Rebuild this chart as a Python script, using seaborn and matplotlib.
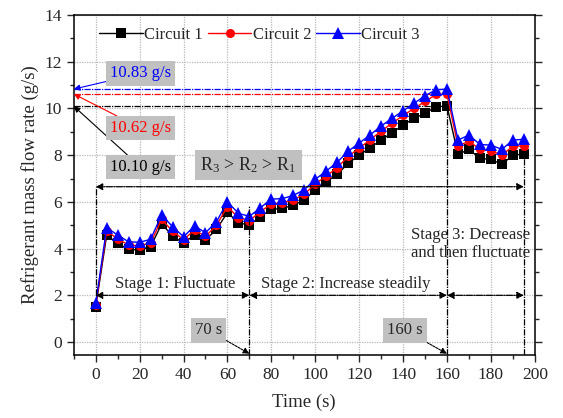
import numpy as np
import pandas as pd
import seaborn as sns
import matplotlib.pyplot as plt
from matplotlib.ticker import MultipleLocator

# Refrigerant mass flow rate of three circuits (g/s), sampled every 5 s
time_s = list(range(0, 200, 5))
circuit_1 = [1.51, 4.58, 4.22, 3.97, 3.94, 4.08, 5.05, 4.55, 4.22, 4.60,
             4.37, 4.82, 5.55, 5.10, 5.01, 5.37, 5.68, 5.72, 5.86, 6.08,
             6.53, 6.86, 7.18, 7.65, 8.00, 8.32, 8.65, 8.96, 9.29, 9.58,
             9.79, 10.08, 10.10, 8.03, 8.25, 7.86, 7.82, 7.61, 8.00, 8.05]
circuit_2 = [1.57, 4.75, 4.42, 4.15, 4.12, 4.25, 5.25, 4.75, 4.38, 4.80,
             4.52, 5.00, 5.80, 5.32, 5.20, 5.58, 5.92, 5.96, 6.10, 6.32,
             6.78, 7.10, 7.47, 7.95, 8.30, 8.66, 9.03, 9.37, 9.70, 10.00,
             10.30, 10.60, 10.62, 8.39, 8.60, 8.25, 8.19, 8.00, 8.39, 8.39]
circuit_3 = [1.65, 4.90, 4.58, 4.29, 4.27, 4.40, 5.44, 4.94, 4.51, 4.97,
             4.68, 5.15, 6.00, 5.51, 5.38, 5.75, 6.12, 6.14, 6.28, 6.52,
             6.97, 7.32, 7.70, 8.17, 8.52, 8.87, 9.25, 9.58, 9.90, 10.22,
             10.55, 10.80, 10.83, 8.65, 8.86, 8.46, 8.43, 8.25, 8.65, 8.68]
circuit_names = ['Circuit 1', 'Circuit 2', 'Circuit 3']
peak_values = [10.10, 10.62, 10.83]
stage_bounds = [0, 70, 160, 195]

df = pd.DataFrame({
    'Time': time_s * 3,
    'Flow': circuit_1 + circuit_2 + circuit_3,
    'Circuit': [n for n in circuit_names for _ in time_s],
})

sns.set_theme(style='ticks')
plt.rcParams['font.family'] = ['Liberation Serif', 'DejaVu Serif']
plt.rcParams['mathtext.fontset'] = 'custom'
plt.rcParams['mathtext.rm'] = 'Liberation Serif'
plt.rcParams['mathtext.it'] = 'Liberation Serif:italic'

colors = ['black', 'red', 'blue']
marker_sizes = [6.5, 6.5, 8]

fig = plt.figure(figsize=(5.63, 4.18), dpi=100)
ax = fig.add_axes([0.131, 0.151, 0.819, 0.813])

sns.lineplot(data=df, x='Time', y='Flow', hue='Circuit', style='Circuit',
             palette=colors, markers=['s', 'o', '^'], dashes=False,
             markersize=6.5, linewidth=1, markeredgewidth=0, ax=ax)
for line, ms in zip(ax.lines, marker_sizes):
    line.set_markeredgecolor(line.get_color())
    line.set_markersize(ms)

ax.set_xlim(-10, 200)
ax.set_ylim(-0.55, 14)
ax.xaxis.set_major_locator(MultipleLocator(20))
ax.xaxis.set_minor_locator(MultipleLocator(10))
ax.yaxis.set_major_locator(MultipleLocator(2))
ax.yaxis.set_minor_locator(MultipleLocator(1))
ax.tick_params(which='both', labelsize=12.5, direction='out', top=False, right=True)
ax.tick_params(which='major', length=5, width=1)
ax.tick_params(which='minor', length=3, width=1)
ax.grid(True, which='major', color='#b8b8b8', linestyle=(0, (1, 1)), linewidth=0.9)
for s in ax.spines.values():
    s.set_linewidth(1.1)
    s.set_color('black')

ax.set_xlabel('Time (s)', fontsize=13.5, labelpad=8)
ax.set_ylabel('Refrigerant mass flow rate (g/s)', fontsize=13.5, labelpad=4)

sns.move_legend(ax, 'upper left', bbox_to_anchor=(0.03, 1.0), ncol=3,
                frameon=False, title=None, fontsize=12, handlelength=2.6,
                handletextpad=0.1, columnspacing=0.3, borderaxespad=0.3)
for h, ms in zip(ax.get_legend().legend_handles, marker_sizes):
    h.set_markersize(ms)
    h.set_markeredgecolor(h.get_color())

dashdot = (0, (5, 1, 1, 1))
box = dict(boxstyle='square,pad=0.25', fc='#c0c0c0', ec='none')

# peak reference lines and labels
label_y = [7.49, 9.16, 11.5]
for val, col, ly in zip(peak_values, colors, label_y):
    ax.plot([-10, 160], [val, val], color=col, linestyle=dashdot, linewidth=0.9, zorder=1)
    ax.annotate(f'{val:.2f} g/s', xy=(-10, val), xytext=(20.5, ly),
                color=col, fontsize=12, ha='center', va='center', bbox=box,
                arrowprops=dict(arrowstyle='-|>', color=col, lw=0.8,
                                mutation_scale=9, shrinkA=0, shrinkB=0))

ax.text(69.5, 7.58, r'R$_3$ > R$_2$ > R$_1$', fontsize=13, ha='center',
        va='center', bbox=dict(boxstyle='square,pad=0.3', fc='#c0c0c0', ec='none'))

# long arrow over the whole run
arrow_kw = dict(arrowstyle='<|-|>', color='black', lw=0.9, linestyle=dashdot,
                mutation_scale=10, shrinkA=0, shrinkB=0)
ax.annotate('', xy=(stage_bounds[0], 6.65), xytext=(stage_bounds[-1], 6.65),
            arrowprops=arrow_kw)

# stage arrows
for a, b in zip(stage_bounds[:-1], stage_bounds[1:]):
    ax.annotate('', xy=(a, 2.0), xytext=(b, 2.0), arrowprops=arrow_kw)

# vertical boundary lines
ax.plot([0, 0], [2.0, 6.65], color='black', linestyle=dashdot, lw=0.9)
ax.plot([70, 70], [-0.55, 5.86], color='black', linestyle=dashdot, lw=0.9)
ax.plot([160, 160], [-0.55, 10.1], color='black', linestyle=dashdot, lw=0.9)
ax.plot([195, 195], [-0.55, 8.05], color='black', linestyle=dashdot, lw=0.9)

ax.text(36.4, 2.5, 'Stage 1: Fluctuate', fontsize=12, ha='center', va='center')
ax.text(114, 2.5, 'Stage 2: Increase steadily', fontsize=12, ha='center', va='center')
ax.text(198, 4.2, 'Stage 3: Decrease\nand then fluctuate', fontsize=12,
        ha='right', va='center', linespacing=1.2)

for t, tx in zip([70, 160], [51.4, 141]):
    ax.annotate(f'{t} s', xy=(t, -0.5), xytext=(tx, 0.5), fontsize=12,
                ha='center', va='center', bbox=box,
                arrowprops=dict(arrowstyle='-|>', color='black', lw=0.8,
                                linestyle=(0, (2, 1)), mutation_scale=9,
                                shrinkA=0, shrinkB=0))

fig.savefig('out.png', dpi=100)
